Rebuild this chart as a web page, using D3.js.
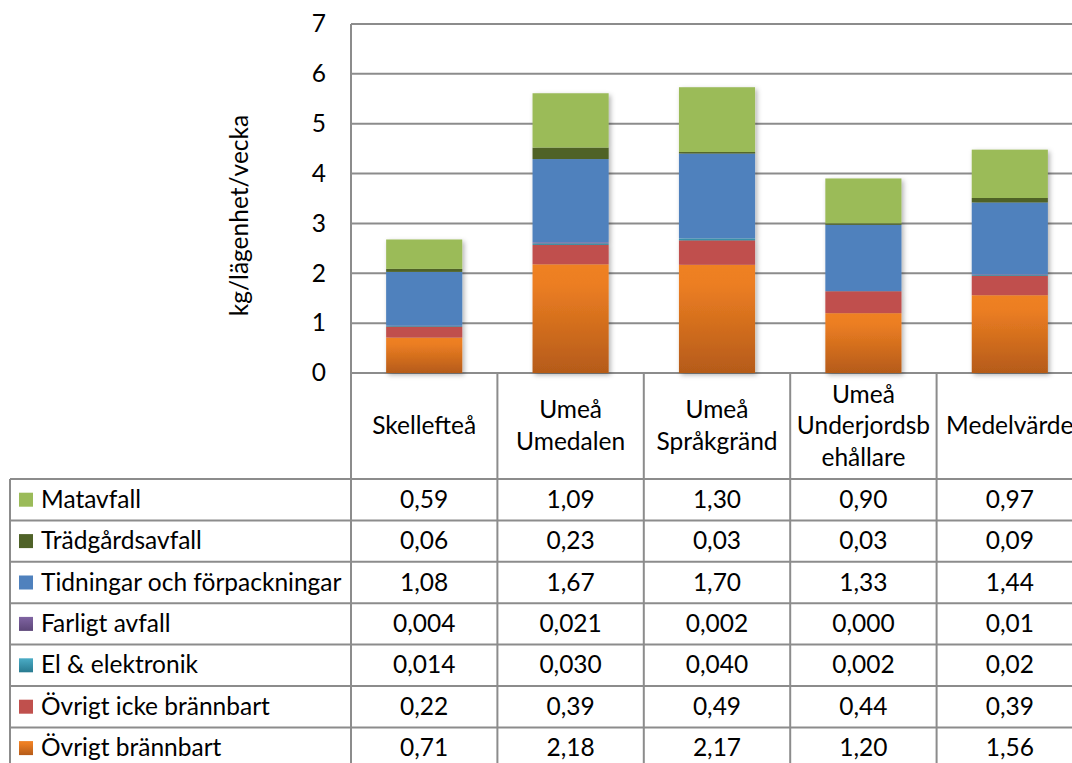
<!DOCTYPE html>
<html>
<head>
<meta charset="utf-8">
<script src="https://cdn.jsdelivr.net/npm/d3@7"></script>
<style>
  html, body { margin: 0; padding: 0; background: #fff; }
  svg { display: block; }
  text { font-family: Lato, "Open Sans", sans-serif; fill: #000; }
</style>
</head>
<body>
<svg id="chart" width="1072" height="763"></svg>
<script>
// Avfall per lägenhet och vecka, fördelat på fraktion
const categories = ["Skellefteå", "Umeå Umedalen", "Umeå Språkgränd", "Umeå Underjordsbehållare", "Medelvärde"];
const headerLines = [["Skellefteå"], ["Umeå", "Umedalen"], ["Umeå", "Språkgränd"], ["Umeå", "Underjordsb", "ehållare"], ["Medelvärde"]];

// Series in table order (top row first)
const seriesNames = ["Matavfall", "Trädgårdsavfall", "Tidningar och förpackningar", "Farligt avfall", "El & elektronik", "Övrigt icke brännbart", "Övrigt brännbart"];
const matavfall       = [0.59, 1.09, 1.30, 0.90, 0.97];
const tradgardsavfall = [0.06, 0.23, 0.03, 0.03, 0.09];
const tidningar       = [1.08, 1.67, 1.70, 1.33, 1.44];
const farligtAvfall   = [0.004, 0.021, 0.002, 0.000, 0.01];
const elektronik      = [0.014, 0.030, 0.040, 0.002, 0.02];
const ovrigtIcke      = [0.22, 0.39, 0.49, 0.44, 0.39];
const ovrigtBrannbart = [0.71, 2.18, 2.17, 1.20, 1.56];
// decimals shown in the data table, per series and category
const decimals = [
  [2, 2, 2, 2, 2],
  [2, 2, 2, 2, 2],
  [2, 2, 2, 2, 2],
  [3, 3, 3, 3, 2],
  [3, 3, 3, 3, 2],
  [2, 2, 2, 2, 2],
  [2, 2, 2, 2, 2]
];
const yTicks = [0, 1, 2, 3, 4, 5, 6, 7];
const yTitle = "kg/lägenhet/vecka";

const seriesValues = [matavfall, tradgardsavfall, tidningar, farligtAvfall, elektronik, ovrigtIcke, ovrigtBrannbart];

const svg = d3.select("#chart");
const defs = svg.append("defs");

// gradient fills for a few of the series
function vGradient(id, stops) {
  const g = defs.append("linearGradient").attr("id", id)
    .attr("x1", 0).attr("y1", 0).attr("x2", 0).attr("y2", 1);
  stops.forEach(s => g.append("stop").attr("offset", s[0]).attr("stop-color", s[1]));
  return `url(#${id})`;
}
const fills = [
  "#9BBB59",
  "#4F6228",
  "#4F81BD",
  vGradient("gFarligt", [[0, "#8064A2"], [1, "#5C4678"]]),
  vGradient("gEl", [[0, "#4BACC6"], [1, "#287A90"]]),
  "#C0504D",
  vGradient("gBrann", [[0, "#EF8124"], [0.18, "#EC7E22"], [1, "#B55B19"]])
];

const shadow = defs.append("filter").attr("id", "shadow")
  .attr("x", "-20%").attr("y", "-10%").attr("width", "140%").attr("height", "125%");
shadow.append("feDropShadow").attr("dx", 2).attr("dy", 2)
  .attr("stdDeviation", 2.5).attr("flood-color", "#000").attr("flood-opacity", 0.3);

// layout
const plotLeft = 351, plotTop = 24, plotBottom = 373;
const colStep = 146.4;
const tableLeft = 10;
const legendTop = 479, rowH = 41.4;
const fontSize = 24.5;
const gridColor = "#8C8C8C";

const x = d3.scaleBand().domain(categories)
  .range([plotLeft, plotLeft + colStep * categories.length]).padding(0);
const y = d3.scaleLinear().domain([0, 7]).range([plotBottom, plotTop]);
const barW = x.bandwidth() * 0.52;

// gridlines
svg.append("g").selectAll("line").data(yTicks).join("line")
  .attr("x1", plotLeft).attr("x2", 1072)
  .attr("y1", d => y(d)).attr("y2", d => y(d))
  .attr("stroke", gridColor).attr("stroke-width", 2);

// y axis labels
const yAxis = d3.axisLeft(y).tickValues(yTicks).tickSize(0).tickPadding(25)
  .tickFormat(d3.format("d"));
const ay = svg.append("g").attr("transform", `translate(${plotLeft},0)`).call(yAxis);
ay.select(".domain").remove();
ay.selectAll("text").attr("font-size", fontSize).attr("font-family", "Lato, sans-serif").attr("fill", "#000");

svg.append("text")
  .attr("transform", `translate(248,${(plotTop + plotBottom) / 2 + 17}) rotate(-90)`)
  .attr("text-anchor", "middle")
  .attr("font-size", fontSize)
  .text(yTitle);

// stacked bars, bottom-up: last table row at the bottom
const stackOrder = d3.range(seriesNames.length).reverse();
const bars = svg.append("g");
categories.forEach((cat, ci) => {
  const g = bars.append("g").attr("filter", "url(#shadow)");
  let acc = 0;
  stackOrder.forEach(si => {
    const v = seriesValues[si][ci];
    const y0 = acc, y1 = acc + v;
    acc = y1;
    if (v <= 0) return;
    g.append("rect")
      .attr("x", x(cat) + (x.bandwidth() - barW) / 2)
      .attr("width", barW)
      .attr("y", y(y1))
      .attr("height", y(y0) - y(y1))
      .attr("fill", fills[si]);
  });
});

// data table
const table = svg.append("g");
const colEdges = categories.map(c => x(c)).concat([x(categories[categories.length - 1]) + x.bandwidth()]);
const tableBottom = legendTop + rowH * seriesNames.length;

// vertical lines
table.selectAll("line.v").data(colEdges).join("line")
  .attr("x1", d => d).attr("x2", d => d)
  .attr("y1", (d, i) => i === 0 ? plotTop : plotBottom)
  .attr("y2", tableBottom)
  .attr("stroke", gridColor).attr("stroke-width", 2);
table.append("line")
  .attr("x1", tableLeft).attr("x2", tableLeft)
  .attr("y1", legendTop).attr("y2", tableBottom)
  .attr("stroke", gridColor).attr("stroke-width", 2);
// horizontal lines
table.selectAll("line.h").data(d3.range(seriesNames.length + 1)).join("line")
  .attr("x1", tableLeft).attr("x2", 1072)
  .attr("y1", i => legendTop + i * rowH).attr("y2", i => legendTop + i * rowH)
  .attr("stroke", gridColor).attr("stroke-width", 2);

// header labels
const lineH = 31.5;
categories.forEach((cat, ci) => {
  const lines = headerLines[ci];
  const cx = x(cat) + x.bandwidth() / 2;
  const cy = (plotBottom + legendTop) / 2;
  const t = table.append("text").attr("text-anchor", "middle").attr("font-size", fontSize);
  lines.forEach((ln, li) => {
    t.append("tspan").attr("x", cx)
      .attr("y", cy + (li - (lines.length - 1) / 2) * lineH + 8)
      .text(ln);
  });
});

// legend keys and values
seriesNames.forEach((name, si) => {
  const ry = legendTop + si * rowH;
  const cy = ry + rowH / 2;
  table.append("rect").attr("x", 19).attr("y", cy - 7).attr("width", 14).attr("height", 14)
    .attr("fill", fills[si]);
  table.append("text").attr("x", 41).attr("y", cy + 8).attr("font-size", fontSize).text(name);
  categories.forEach((cat, ci) => {
    const v = seriesValues[si][ci];
    table.append("text")
      .attr("x", x(cat) + x.bandwidth() / 2).attr("y", cy + 8)
      .attr("text-anchor", "middle").attr("font-size", fontSize)
      .text(v.toFixed(decimals[si][ci]).replace(".", ","));
  });
});
</script>
</body>
</html>
